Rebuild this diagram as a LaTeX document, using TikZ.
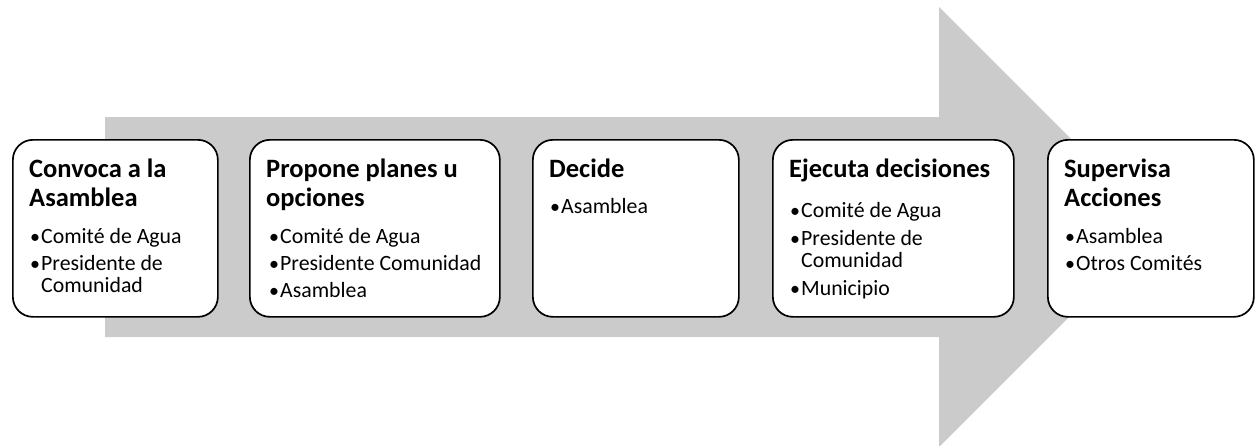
\documentclass[tikz,border=0pt]{standalone}
\usepackage{fontspec}
\setmainfont{Carlito}
\definecolor{arrowgray}{RGB}{203,203,203}
\begin{document}
\begin{tikzpicture}[x=1pt,y=-1pt,
  box/.style={draw=black, line width=1.7pt, fill=white, rounded corners=20pt,
    minimum width=#1, minimum height=177pt, inner sep=0pt, anchor=north west},
  ttl/.style={anchor=base west, inner sep=0pt, font=\fontsize{26.5}{29.5}\selectfont\bfseries},
  itm/.style={anchor=base west, inner sep=0pt, font=\fontsize{21.8}{22}\selectfont},
  bul/.style={anchor=base west, inner sep=0pt, font=\fontsize{20}{22}\selectfont}]
\useasboundingbox (0,0) rectangle (1258,445);
% big arrow
\fill[arrowgray] (105,117) -- (939,117) -- (939,7) -- (1159,227) -- (939,447)
  -- (939,337) -- (105,337) -- cycle;
% boxes
\node[box=205pt] (b1) at (12,139) {};
\node[box=250pt] (b2) at (249,139) {};
\node[box=206pt] (b3) at (532,139) {};
\node[box=241pt] (b4) at (772,139) {};
\node[box=206pt] (b5) at (1047,139) {};
% box 1
\node[ttl] (t1a) at (29,177) {Convoca a la};
\node[ttl] (t1b) at (29,206.5) {Asamblea};
\node[bul] (u1a) at (30,243) {•};
\node[itm] (i1a) at (41,243) {Comité de Agua};
\node[bul] (u1b) at (30,270) {•};
\node[itm] (i1b) at (41,270) {Presidente de};
\node[itm] (i1c) at (41,292) {Comunidad};
% box 2
\node[ttl] (t2a) at (266,177) {Propone planes u};
\node[ttl] (t2b) at (266,206.5) {opciones};
\node[bul] (u2a) at (269,243) {•};
\node[itm] (i2a) at (280,243) {Comité de Agua};
\node[bul] (u2b) at (269,270) {•};
\node[itm] (i2b) at (280,270) {Presidente Comunidad};
\node[bul] (u2c) at (269,297) {•};
\node[itm] (i2c) at (280,297) {Asamblea};
% box 3
\node[ttl] (t3a) at (549,177) {Decide};
\node[bul] (u3a) at (550,213) {•};
\node[itm] (i3a) at (561,213) {Asamblea};
% box 4
\node[ttl] (t4a) at (789,177) {Ejecuta decisiones};
\node[bul] (u4a) at (790,217) {•};
\node[itm] (i4a) at (801,217) {Comité de Agua};
\node[bul] (u4b) at (790,245) {•};
\node[itm] (i4b) at (801,245) {Presidente de};
\node[itm] (i4c) at (801,267) {Comunidad};
\node[bul] (u4d) at (790,295) {•};
\node[itm] (i4d) at (801,295) {Municipio};
% box 5
\node[ttl] (t5a) at (1064,177) {Supervisa};
\node[ttl] (t5b) at (1064,206.5) {Acciones};
\node[bul] (u5a) at (1065,243) {•};
\node[itm] (i5a) at (1076,243) {Asamblea};
\node[bul] (u5b) at (1065,270) {•};
\node[itm] (i5b) at (1076,270) {Otros Comités};
\end{tikzpicture}
\end{document}
